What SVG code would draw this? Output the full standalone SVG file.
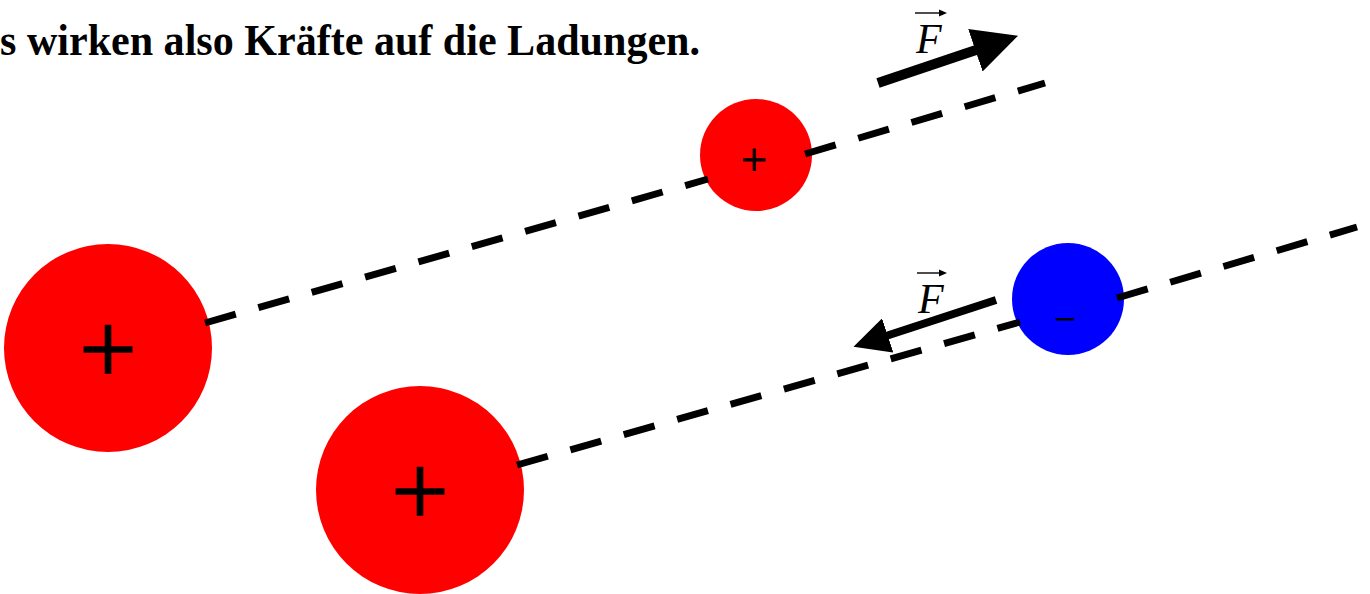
<svg xmlns="http://www.w3.org/2000/svg" width="1370" height="594" viewBox="0 0 1370 594">
  <style>
    .pos { fill: #ff0000; }
    .neg { fill: #0000ff; }
    .sign { font-family: "Liberation Serif", "Times New Roman", serif; fill: #000; text-anchor: middle; }
    .conn { stroke: #000; stroke-width: 7; stroke-dasharray: 32 23.5; fill: none; }
    .force { stroke: #000; fill: none; }
    .flabel { font-family: "Liberation Serif", "Times New Roman", serif; font-style: italic; font-size: 42px; fill: #000; }
    .vec { stroke: #000; stroke-width: 1.4; fill: none; }
    .title { font-family: "Liberation Serif", "Times New Roman", serif; font-weight: bold; font-size: 44px; fill: #000; }
  </style>
  <defs>
    <marker id="head" viewBox="0 0 10 10" refX="0.5" refY="5" markerWidth="4.5" markerHeight="4.5" markerUnits="strokeWidth" orient="auto">
      <path d="M0,0 L10,5 L0,10 z" fill="#000"/>
    </marker>
  </defs>

  <rect width="1370" height="594" fill="#fff"/>

  <text class="title" x="0" y="55" textLength="700" lengthAdjust="spacingAndGlyphs">s wirken also Kräfte auf die Ladungen.</text>

  <g id="charge-big-1">
    <circle class="pos" cx="108" cy="348" r="104"/>
    <text class="sign" x="108" y="383" font-size="102" stroke="#000" stroke-width="1.5">+</text>
  </g>
  <g id="charge-big-2">
    <circle class="pos" cx="420" cy="490" r="104"/>
    <text class="sign" x="420" y="525" font-size="102" stroke="#000" stroke-width="1.5">+</text>
  </g>
  <g id="charge-small-pos">
    <circle class="pos" cx="756" cy="155" r="56"/>
    <text class="sign" x="754" y="175" font-size="46" stroke="#000" stroke-width="0.8">+</text>
  </g>
  <g id="charge-small-neg">
    <circle class="neg" cx="1068" cy="299" r="56"/>
    <text class="sign" x="1065" y="332" font-size="38" stroke="#000" stroke-width="0.6">−</text>
  </g>

  <g id="connectors">
    <path class="conn" d="M205,323 L708,179"/>
    <path class="conn" d="M805,154 L1045,83"/>
    <path class="conn" d="M517,465 L1020,322"/>
    <path class="conn" d="M1117,298 L1357,227"/>
  </g>

  <g id="force-1">
    <path class="force" stroke-width="10" d="M878,83 L977.5,49.5" marker-end="url(#head)"/>
    <text class="flabel" x="916" y="53">F</text>
    <path class="vec" d="M915,13 H944"/>
    <path d="M939,9.5 L947,13 L939,16.5 z" fill="#000"/>
  </g>
  <g id="force-2">
    <path class="force" stroke-width="8" d="M996,300 L886,336" marker-end="url(#head)"/>
    <text class="flabel" x="918" y="313">F</text>
    <path class="vec" d="M917,273 H944"/>
    <path d="M939,269.5 L947,273 L939,276.5 z" fill="#000"/>
  </g>
</svg>
